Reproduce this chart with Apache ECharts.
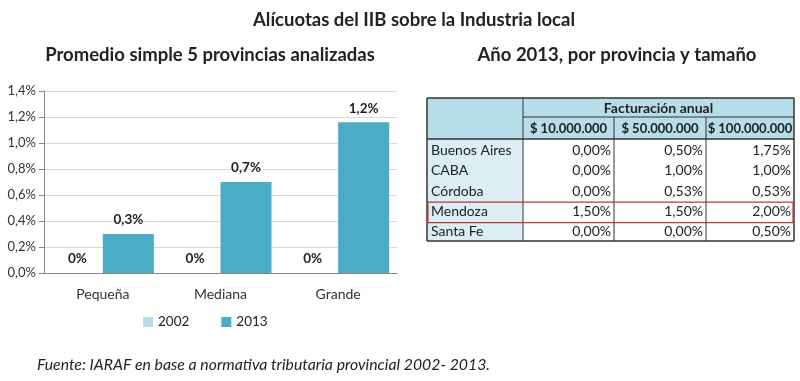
<!DOCTYPE html>
<html><head><meta charset="utf-8">
<script src="https://cdn.jsdelivr.net/npm/echarts@6/dist/echarts.min.js"></script>
<style>html,body{margin:0;padding:0;background:#fff}#c{width:800px;height:381px}</style>
</head><body><div id="c"></div>
<script>
// ---- data ----
const categories = ['Pequeña', 'Mediana', 'Grande'];
const series2002 = [0, 0, 0];
const series2013 = [0.30, 0.70, 1.16];
const yTicks = ['0,0%', '0,2%', '0,4%', '0,6%', '0,8%', '1,0%', '1,2%', '1,4%'];
const provinces = ['Buenos Aires', 'CABA', 'Córdoba', 'Mendoza', 'Santa Fe'];
const colHeaders = ['$ 10.000.000', '$ 50.000.000', '$ 100.000.000'];
const tasa10M = [0.00, 0.00, 0.00, 1.50, 0.00];
const tasa50M = [0.50, 1.00, 0.53, 1.50, 0.00];
const tasa100M = [1.75, 1.00, 0.53, 2.00, 0.50];
const highlighted = 'Mendoza';

const FONT = 'Lato';
const fmtPct = (v, d) => v.toFixed(d).replace('.', ',') + '%';

// ---- table as graphic elements ----
const colX = [427, 523, 614, 706, 794];
const hdrY = [98, 117, 139];
const rowH = 20.4;
const g = [];
const dark = '#333';
g.push({type:'rect', shape:{x:colX[0], y:hdrY[0], width:colX[4]-colX[0], height:hdrY[2]-hdrY[0]}, style:{fill:'#b7dde8', stroke:null}});
g.push({type:'rect', shape:{x:colX[0], y:hdrY[2], width:colX[1]-colX[0], height:rowH*provinces.length}, style:{fill:'#dbeef4'}});
const bottom = hdrY[2] + rowH*provinces.length;
g.push({type:'text', x:(colX[1]+colX[4])/2, y:(hdrY[0]+hdrY[1])/2+1, style:{text:'Facturación anual', font:'bold 14px '+FONT, fill:'#222', align:'center', verticalAlign:'middle'}});
colHeaders.forEach((h,i)=>{
  g.push({type:'text', x:(colX[i+1]+colX[i+2])/2, y:(hdrY[1]+hdrY[2])/2+1, style:{text:h, font:'bold 13px '+FONT, fill:'#222', align:'center', verticalAlign:'middle'}});
});
const cols = [tasa10M, tasa50M, tasa100M];
provinces.forEach((p,r)=>{
  const cy = hdrY[2] + rowH*r + rowH/2 + 1;
  g.push({type:'text', x:colX[0]+4, y:cy, style:{text:p, font:'14px '+FONT, fill:'#222', align:'left', verticalAlign:'middle'}});
  cols.forEach((col,c)=>{
    g.push({type:'text', x:colX[c+2]-3, y:cy, style:{text:fmtPct(col[r],2), font:'14px '+FONT, fill:'#222', align:'right', verticalAlign:'middle'}});
  });
});
const line = (x1,y1,x2,y2,w,col)=>g.push({type:'line', shape:{x1,y1,x2,y2}, style:{stroke:col||dark, lineWidth:w||1}});
line(colX[0], hdrY[0], colX[4], hdrY[0], 1.5);
line(colX[0], bottom, colX[4], bottom, 1.5);
line(colX[0], hdrY[0], colX[0], bottom, 1.5);
line(colX[4], hdrY[0], colX[4], bottom, 1.5);
line(colX[1], hdrY[1], colX[4], hdrY[1], 1);
line(colX[0], hdrY[2], colX[4], hdrY[2], 1.5);
line(colX[1], hdrY[0], colX[1], bottom, 1);
line(colX[2], hdrY[1], colX[2], bottom, 1);
line(colX[3], hdrY[1], colX[3], bottom, 1);
const hi = provinces.indexOf(highlighted);
g.push({type:'rect', shape:{x:colX[0]+1, y:hdrY[2]+rowH*hi+2, width:colX[4]-colX[0]-2, height:rowH}, style:{fill:null, stroke:'#c0392b', lineWidth:1.2}});
g.push({type:'text', x:37, y:365, style:{text:'Fuente: IARAF en base a normativa tributaria provincial 2002- 2013.', font:'italic 15.8px '+FONT, fill:'#222', verticalAlign:'middle'}});

const chart = echarts.init(document.getElementById('c'));
chart.setOption({
  animation:false,
  backgroundColor:'#fff',
  title:[
    {text:'Alícuotas del IIB sobre la Industria local', left:409, textAlign:'center', top:6, textStyle:{fontFamily:FONT, fontSize:18.5, fontWeight:'bold', color:'#222'}},
    {text:'Promedio simple 5 provincias analizadas', left:205, textAlign:'center', top:41, textStyle:{fontFamily:FONT, fontSize:18.5, fontWeight:'bold', color:'#222'}},
    {text:'Año 2013, por provincia y tamaño', left:612, textAlign:'center', top:41, textStyle:{fontFamily:FONT, fontSize:18.5, fontWeight:'bold', color:'#222'}}
  ],
  legend:{left:138, top:310, itemWidth:10, itemHeight:10, itemGap:32, icon:'rect',
    textStyle:{fontFamily:FONT, fontSize:13.5, color:'#222'}, data:['2002','2013']},
  grid:{left:44, right:403, top:91, bottom:108, containLabel:false},
  xAxis:{type:'category', data:categories,
    axisLine:{lineStyle:{color:'#888'}},
    axisTick:{length:5, lineStyle:{color:'#888'}},
    axisLabel:{fontFamily:FONT, fontSize:14, color:'#333', margin:14}},
  yAxis:{type:'value', min:0, max:1.4, interval:0.2,
    axisLine:{show:true, lineStyle:{color:'#888'}},
    axisTick:{show:true, length:5, lineStyle:{color:'#888'}},
    splitLine:{lineStyle:{color:'#d9d9d9'}},
    axisLabel:{fontFamily:FONT, fontSize:13, color:'#333', margin:8,
      formatter:(v)=>yTicks[Math.round(v/0.2)]}},
  series:[
    {name:'2002', type:'bar', data:series2002, barWidth:51, barGap:'0%', itemStyle:{color:'#b7dde8'},
      label:{show:true, position:'top', distance:7, fontFamily:FONT, fontSize:13.5, fontWeight:'bold', color:'#222', formatter:(p)=>p.value===0?'0%':fmtPct(p.value,1)}},
    {name:'2013', type:'bar', data:series2013, barWidth:51, itemStyle:{color:'#4bacc6'},
      label:{show:true, position:'top', distance:7, fontFamily:FONT, fontSize:13.5, fontWeight:'bold', color:'#222', formatter:(p)=>fmtPct(p.value,1)}}
  ],
  graphic:g
});
</script></body></html>
